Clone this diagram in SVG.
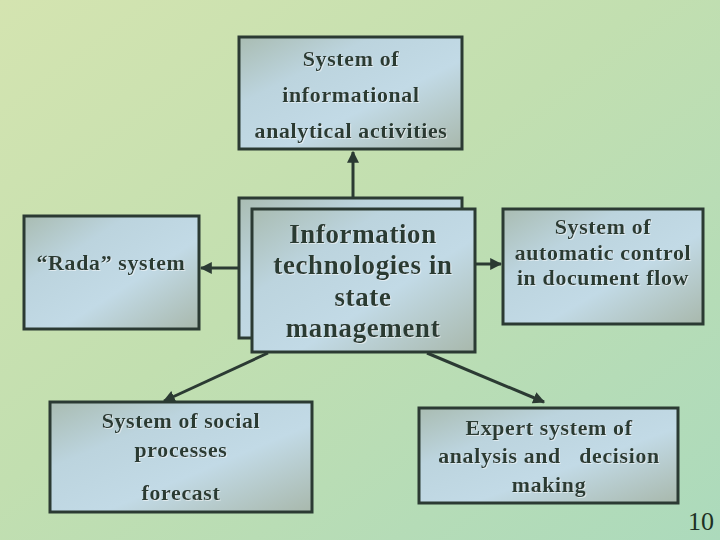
<svg xmlns="http://www.w3.org/2000/svg" width="720" height="540" viewBox="0 0 720 540">
  <defs>
    <linearGradient id="bg" x1="0" y1="0" x2="1" y2="1">
      <stop offset="0" stop-color="#d4e4b0"/>
      <stop offset="0.45" stop-color="#c2dfb0"/>
      <stop offset="1" stop-color="#acdabc"/>
    </linearGradient>
    <linearGradient id="boxfill" x1="0" y1="0" x2="1" y2="1">
      <stop offset="0" stop-color="#a9bcb2"/>
      <stop offset="0.3" stop-color="#bcd4de"/>
      <stop offset="0.6" stop-color="#c2dae6"/>
      <stop offset="1" stop-color="#a8b8ac"/>
    </linearGradient>
    <marker id="arrow" viewBox="0 0 10 10" refX="9" refY="5" markerWidth="4" markerHeight="4" orient="auto">
      <path d="M0,0 L10,5 L0,10 z" fill="#2b3a33"/>
    </marker>
    <filter id="ts" x="-5%" y="-20%" width="110%" height="140%">
      <feDropShadow dx="1" dy="1" stdDeviation="0.3" flood-color="#ffffff" flood-opacity="0.5"/>
    </filter>
  </defs>
  <style>
    .box { fill: url(#boxfill); stroke: #2b3a33; stroke-width: 3; }
    .t { font-family: "Liberation Serif", "Times New Roman", serif; font-weight: bold; fill: #2b3a33; text-anchor: middle; font-size: 22px; letter-spacing: 0.6px; filter: url(#ts); }
    .big { font-size: 27px; }
    .conn { stroke: #2b3a33; stroke-width: 3; fill: none; marker-end: url(#arrow); }
    .num { font-family: "Liberation Serif", "Times New Roman", serif; font-size: 26px; fill: #1e3024; text-anchor: end; }
  </style>
  <rect x="0" y="0" width="720" height="540" fill="url(#bg)"/>

  <g id="connectors">
    <line class="conn" x1="353" y1="198" x2="353" y2="152"/>
    <line class="conn" x1="239" y1="268" x2="201" y2="268"/>
    <line class="conn" x1="476" y1="264" x2="501" y2="264"/>
    <line class="conn" x1="268" y1="353" x2="164" y2="401"/>
    <line class="conn" x1="427" y1="353" x2="544" y2="402"/>
  </g>

  <g id="node-top">
    <rect class="box" x="239" y="37" width="223" height="112"/>
    <text class="t" x="351" y="66">System of</text>
    <text class="t" x="351" y="102">informational</text>
    <text class="t" x="351" y="138">analytical activities</text>
  </g>

  <g id="node-rada">
    <rect class="box" x="24" y="216" width="175" height="113"/>
    <text class="t" x="111" y="270">“Rada” system</text>
  </g>

  <g id="node-center">
    <rect class="box" x="239" y="198" width="223" height="140"/>
    <rect class="box" x="252" y="209" width="223" height="143"/>
    <text class="t big" x="363" y="243">Information</text>
    <text class="t big" x="363" y="274">technologies in</text>
    <text class="t big" x="363" y="306">state</text>
    <text class="t big" x="363" y="337">management</text>
  </g>

  <g id="node-docflow">
    <rect class="box" x="503" y="209" width="200" height="115"/>
    <text class="t" x="603" y="234">System of</text>
    <text class="t" x="603" y="260">automatic control</text>
    <text class="t" x="603" y="285">in document flow</text>
  </g>

  <g id="node-social">
    <rect class="box" x="50" y="402" width="262" height="110"/>
    <text class="t" x="181" y="428">System of social</text>
    <text class="t" x="181" y="457">processes</text>
    <text class="t" x="181" y="500">forecast</text>
  </g>

  <g id="node-expert">
    <rect class="box" x="419" y="408" width="259" height="95"/>
    <text class="t" x="549" y="435">Expert system of</text>
    <text class="t" x="549" y="463" xml:space="preserve">analysis and   decision</text>
    <text class="t" x="549" y="492">making</text>
  </g>

  <text class="num" x="714" y="530">10</text>
</svg>
